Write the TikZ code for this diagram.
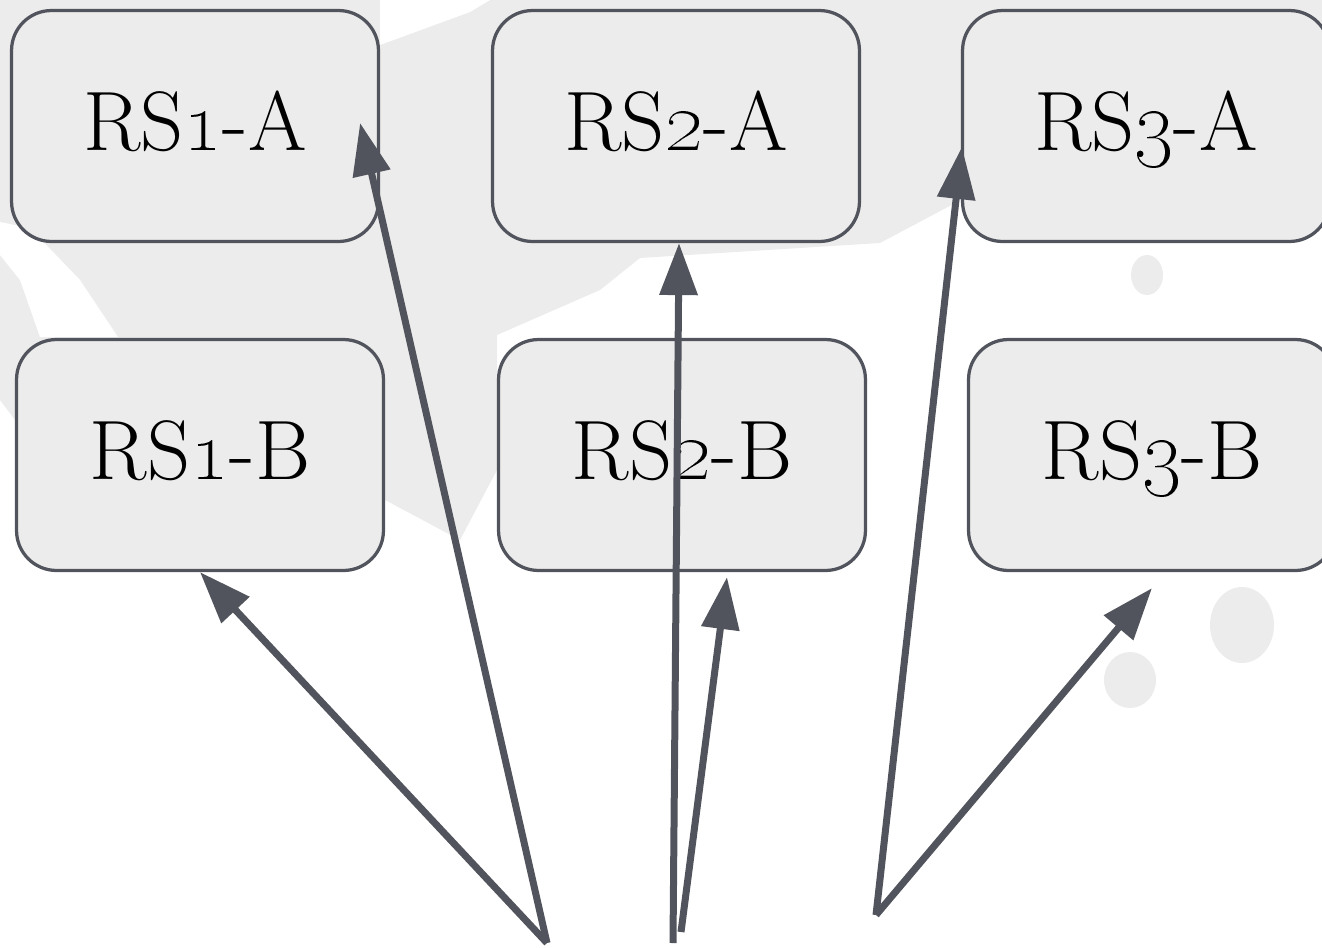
\documentclass[tikz,border=0pt]{standalone}
\usetikzlibrary{arrows.meta}
\definecolor{edgegray}{HTML}{51545C}
\definecolor{fillgray}{HTML}{ECECEC}
\newcommand{\rsnum}[1]{\scalebox{1.4}{\oldstylenums{#1}}}
\begin{document}
\begin{tikzpicture}[x=0.02cm,y=-0.02cm,
    rsbox/.style={draw=edgegray, line width=0.065cm, fill=fillgray, rounded corners=0.8cm,
      minimum width=7.34cm, minimum height=4.62cm, inner sep=0pt,
      text height=28pt, text depth=0pt, font=\fontsize{48}{56}\selectfont},
    link/.style={draw=edgegray, line width=0.14cm, -{Triangle[length=1.04cm,width=0.74cm]}}]
    \useasboundingbox (0,0) rectangle (1322,947);

    % brush strokes behind
    \fill[fillgray] (0,0) -- (1322,0) -- (1322,60) -- (1000,130) -- (961,200) -- (880,243)
      -- (640,258) -- (600,290) -- (497,335) -- (497,470) -- (460,540) -- (385,500)
      -- (200,420) -- (15,420) -- (0,400) -- cycle;
    \fill[white] (0,222) -- (30,228) -- (80,280) -- (118,337) -- (40,337) -- (20,280) -- (0,255) -- cycle;
    \fill[white] (380,45) -- (470,12) -- (490,0) -- (380,0) -- cycle;
    \fill[fillgray] (1147,275) ellipse (16 and 20);
    \fill[fillgray] (1242,625) ellipse (32 and 38);
    \fill[fillgray] (1130,680) ellipse (26 and 28);

    \node[rsbox] (rs1a) at (195,126) {RS\rsnum{1}-A};
    \node[rsbox] (rs2a) at (676,126) {RS\rsnum{2}-A};
    \node[rsbox] (rs3a) at (1146,126) {RS\rsnum{3}-A};

    \node[rsbox] (rs1b) at (200,455) {RS\rsnum{1}-B};
    \node[rsbox] (rs2b) at (682,455) {RS\rsnum{2}-B};
    \node[rsbox] (rs3b) at (1152,455) {RS\rsnum{3}-B};

    \coordinate (src1) at (547,943);
    \coordinate (src2a) at (673,943);
    \coordinate (src2b) at (681,932);
    \coordinate (src3) at (876,915);

    \draw[link] (src1) -- ([xshift=-0.4cm,yshift=0.06cm]rs1a.east);
    \draw[link] (src1) -- (rs1b.south);
    \draw[link] (src2a) -- ([xshift=0.06cm]rs2a.south);
    \draw[link] (src2b) -- ([xshift=0.9cm,yshift=-0.1cm]rs2b.south);
    \draw[link] (src3) -- ([xshift=0.02cm,yshift=-0.42cm]rs3a.west);
    \draw[link] (src3) -- ([yshift=-0.32cm]rs3b.south);
\end{tikzpicture}
\end{document}
